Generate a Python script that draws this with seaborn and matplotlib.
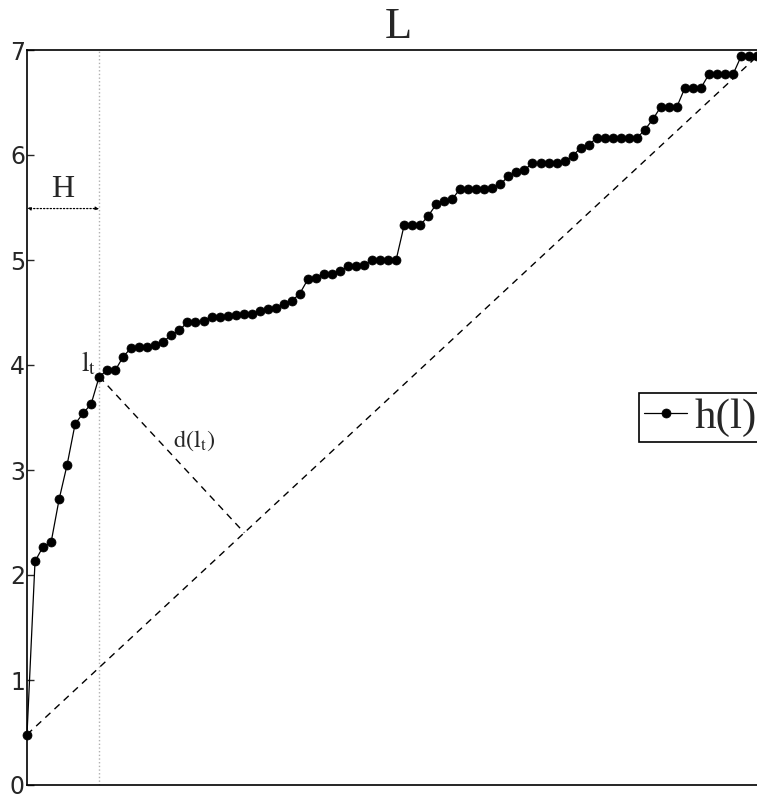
import numpy as np
import pandas as pd
import matplotlib
matplotlib.use("Agg")
import matplotlib.pyplot as plt
import seaborn as sns

# h(l): cumulative height curve sampled at l = 0 .. 91
h_values = [
    0.48, 2.13, 2.27, 2.31, 2.72, 3.05, 3.44, 3.54, 3.63, 3.89,
    3.95, 3.95, 4.08, 4.165, 4.17, 4.17, 4.19, 4.22, 4.29, 4.33,
    4.41, 4.41, 4.42, 4.46, 4.46, 4.47, 4.48, 4.49, 4.49, 4.51,
    4.53, 4.54, 4.58, 4.61, 4.68, 4.815, 4.83, 4.87, 4.87, 4.895,
    4.94, 4.94, 4.95, 5.00, 5.00, 5.00, 5.00, 5.33, 5.33, 5.33,
    5.42, 5.53, 5.56, 5.58, 5.68, 5.68, 5.68, 5.68, 5.69, 5.72,
    5.80, 5.84, 5.86, 5.92, 5.92, 5.92, 5.92, 5.94, 5.99, 6.07,
    6.10, 6.16, 6.16, 6.16, 6.16, 6.16, 6.16, 6.24, 6.34, 6.46,
    6.46, 6.46, 6.64, 6.64, 6.64, 6.77, 6.77, 6.77, 6.77, 6.94,
    6.94, 6.94,
]
l_values = list(range(len(h_values)))
threshold_index = 9          # l_t, the knee of the curve
y_ticks = [0, 1, 2, 3, 4, 5, 6, 7]

sns.set_style("ticks")
plt.rcParams["font.family"] = ["DejaVu Sans"]
plt.rcParams["mathtext.fontset"] = "stix"

W, H = 757, 798
fig = plt.figure(figsize=(W / 100, H / 100), dpi=100)
ax = fig.add_axes([27 / W, 13 / H, (770 - 27) / W, 735 / H])

df = pd.DataFrame({"l": l_values, "h": h_values})
sns.lineplot(data=df, x="l", y="h", ax=ax, color="black", marker="o",
             markersize=6.5, markeredgecolor="black", markeredgewidth=0.5,
             linewidth=0.9, label="h(l)", clip_on=False, zorder=5)

ax.set_xlim(0, 92.6)
ax.set_ylim(0, 7)
ax.set_xticks([])
ax.set_yticks(y_ticks)
ax.set_xlabel("")
ax.set_ylabel("")
ax.tick_params(axis="y", direction="in", length=5, width=1, labelsize=17,
               pad=1.5, right=True)
for s in ax.spines.values():
    s.set_linewidth(1.2)
    s.set_color("black")

serif = ["Liberation Serif", "DejaVu Serif"]
ax.set_title("L", fontsize=32, family=serif, pad=9)

# chord from the first to the last point
x0, y0 = l_values[0], h_values[0]
x1, y1 = l_values[-1], h_values[-1]
ax.plot([x0, x1], [y0, y1], color="black", lw=1, dashes=(5, 4), zorder=2)

# perpendicular from l_t to the chord, computed in screen space
fig.canvas.draw()
T = ax.transData
A = T.transform((x0, y0))
B = T.transform((x1, y1))
P = T.transform((l_values[threshold_index], h_values[threshold_index]))
d = B - A
t = np.dot(P - A, d) / np.dot(d, d)
foot = T.inverted().transform(A + t * d)
ax.plot([l_values[threshold_index], foot[0]],
        [h_values[threshold_index], foot[1]],
        color="black", lw=1, dashes=(5, 4), zorder=2)

# vertical marker at l_t
ax.axvline(l_values[threshold_index], color="#b0b0b0", ls=":", lw=1, zorder=1)

# H span arrow
ax.annotate("", xy=(0, 5.49), xytext=(l_values[threshold_index], 5.49),
            arrowprops=dict(arrowstyle="<|-|>", linestyle=":", lw=0.9,
                            color="black", mutation_scale=5,
                            shrinkA=0, shrinkB=0))
ax.text(4.5, 5.53, "H", fontsize=23, family=serif, ha="center", va="bottom")

ax.text(7.7, 4.02, r"$\mathrm{l_t}$", fontsize=19.5, ha="center", va="center")
ax.text(20.8, 3.28, r"$\mathrm{d(l_t)}$", fontsize=17.5, ha="center", va="center")

leg = ax.legend(loc="center left", bbox_to_anchor=((639 - 27) / (770 - 27), 0.5),
                borderaxespad=0, prop={"family": serif, "size": 31},
                frameon=True, fancybox=False, framealpha=1, edgecolor="black",
                handlelength=1.0, handletextpad=0.18, borderpad=0.12,
                markerscale=1.0)
leg.get_frame().set_linewidth(1.2)

fig.savefig("out.png", dpi=100)
